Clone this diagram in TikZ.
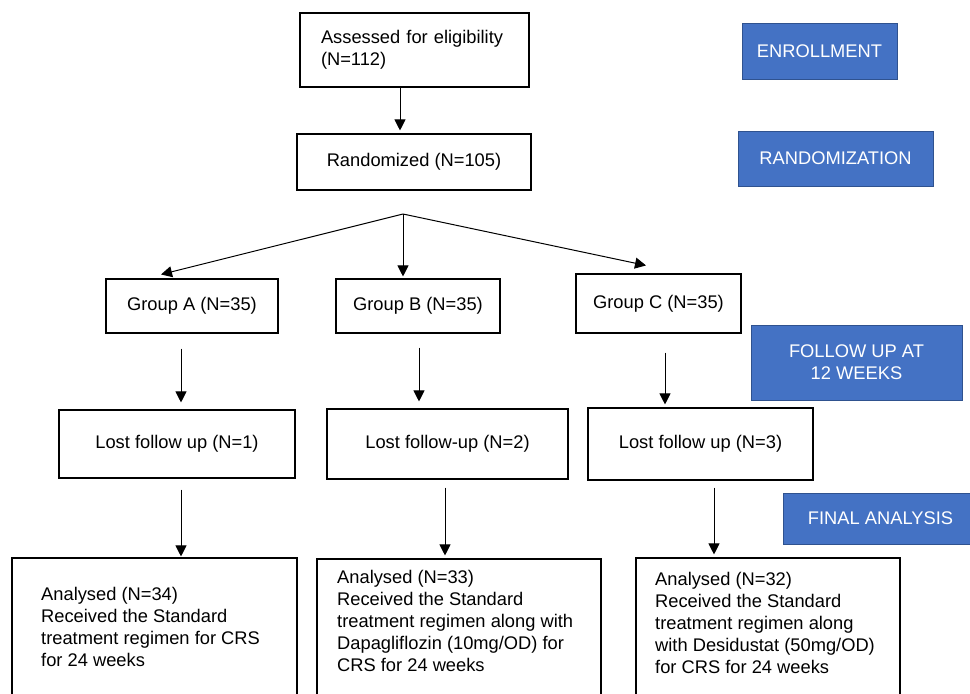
\documentclass[tikz,border=0pt]{standalone}
\usepackage{fontspec}
\setmainfont{Liberation Sans}
\usetikzlibrary{arrows.meta,calc}
\definecolor{hdrblue}{HTML}{4472C4}
\definecolor{hdrline}{HTML}{2F528F}
\begin{document}
\begin{tikzpicture}[x=1pt,y=-1pt,
  every node/.style={font=\fontsize{18.3}{22}\selectfont},
  box/.style={draw=black, line width=1.1pt, inner sep=0pt, align=center},
  hdr/.style={draw=hdrline, line width=1pt, fill=hdrblue, text=white, inner sep=0pt, align=center},
  arr/.style={draw=black, line width=1pt, -{Triangle[length=11pt,width=11pt]}},
  txt/.style={inner sep=0pt, align=left, anchor=north west}]
\useasboundingbox (0,0) rectangle (970,694);
\clip (0,0) rectangle (970,694);

\node[box, minimum width=229pt, minimum height=74pt, text width=187pt, align=left, inner xsep=21pt] (assess) at (414.5,50) {Assessed for eligibility\\(N=112)};
\node[box, minimum width=234pt, minimum height=56pt] (rand) at (414,162) {Randomized (N=105)};
\node[hdr, minimum width=155pt, minimum height=56pt] (enr) at (819.5,51) {ENROLLMENT};
\node[hdr, minimum width=195pt, minimum height=55pt] (rnd) at (835.5,158.5) {RANDOMIZATION};
\coordinate (split) at (403,214);

\node[box, minimum width=172pt, minimum height=54pt] (gA) at (192,306) {Group A (N=35)};
\node[box, minimum width=164pt, minimum height=54pt] (gB) at (418,306) {Group B (N=35)};
\node[box, minimum width=165pt, minimum height=59pt] (gC) at (658.5,303.5) {Group C (N=35)};
\node[hdr, minimum width=211pt, minimum height=75pt] (fu) at (856.5,362.5) {FOLLOW UP AT\\12 WEEKS};

\node[box, minimum width=236pt, minimum height=68pt] (lA) at (177,444) {Lost follow up (N=1)};
\node[box, minimum width=241pt, minimum height=70pt] (lB) at (447.5,444) {Lost follow-up (N=2)};
\node[box, minimum width=225pt, minimum height=72pt] (lC) at (700.5,444) {Lost follow up (N=3)};
\node[hdr, minimum width=195pt, minimum height=51pt] (fa) at (880.5,518.5) {FINAL ANALYSIS};

\node[box, minimum width=285pt, minimum height=182pt] (bA) at (154.5,649) {};
\node[box, minimum width=284pt, minimum height=181pt] (bB) at (459,649.5) {};
\node[box, minimum width=264pt, minimum height=182pt] (bC) at (768,649) {};
\node[txt] (tA) at (41,587) {Analysed (N=34)\\Received the Standard\\treatment regimen for CRS\\for 24 weeks};
\node[txt] (tB) at (337,570) {Analysed (N=33)\\Received the Standard\\treatment regimen along with\\Dapagliflozin (10mg/OD) for\\CRS for 24 weeks};
\node[txt] (tC) at (655,572) {Analysed (N=32)\\Received the Standard\\treatment regimen along\\with Desidustat (50mg/OD)\\for CRS for 24 weeks};

\draw[arr] ([xshift=-14.5pt]assess.south) -- ([xshift=-14pt,yshift=3pt]rand.north);
\draw[arr] (split) -- ([xshift=-31pt,yshift=4pt]gA.north);
\draw[arr] (split) -- ([xshift=-15pt,yshift=2pt]gB.north);
\draw[arr] (split) -- ([xshift=-12.5pt,yshift=8pt]gC.north);

\draw[arr] ([xshift=-11pt,yshift=-15pt]gA.south) -- ([xshift=4pt,yshift=7pt]lA.north);
\draw[arr] ([xshift=1pt,yshift=-14pt]gB.south) -- ([xshift=-28.5pt,yshift=7pt]lB.north);
\draw[arr] ([xshift=6.5pt,yshift=-19pt]gC.south) -- ([xshift=-35.5pt,yshift=3pt]lC.north);

\draw[arr] ([xshift=4pt,yshift=-11pt]lA.south) -- ([xshift=26.5pt,yshift=1pt]bA.north);
\draw[arr] ([xshift=-2.5pt,yshift=-8pt]lB.south) -- ([xshift=-14pt,yshift=3pt]bB.north);
\draw[arr] ([xshift=13.5pt,yshift=-7pt]lC.south) -- ([xshift=-54pt,yshift=3pt]bC.north);
\end{tikzpicture}
\end{document}
